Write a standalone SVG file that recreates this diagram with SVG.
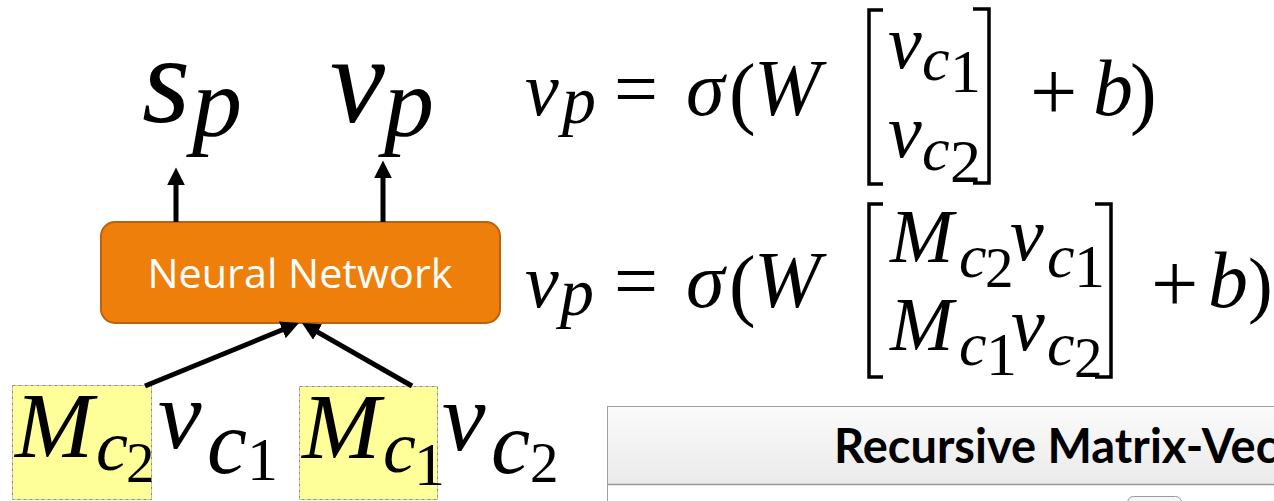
<svg xmlns="http://www.w3.org/2000/svg" width="1274" height="501" viewBox="0 0 1274 501">
<style>
.m{font-family:'Liberation Serif','Open Sans',sans-serif;font-style:italic;fill:#000}
.r{font-family:'Liberation Serif','Open Sans',sans-serif;font-style:normal;fill:#000}
.br{fill:none;stroke:#000;stroke-width:3.5}
.ybox{fill:#FFFF99;stroke:#8a8a8a;stroke-width:1;stroke-dasharray:3 1 1 1}
.conn{stroke:#000;stroke-width:5;fill:none}
</style>
<defs>
<marker id="ah" viewBox="0 0 10 10" refX="3" refY="5" markerWidth="3.6" markerHeight="3.6" orient="auto" markerUnits="strokeWidth">
<path d="M0,0 L10,5 L0,10 z" fill="#000"/>
</marker>
<linearGradient id="hdr" x1="0" y1="0" x2="0" y2="1">
<stop offset="0" stop-color="#FBFBFB"/>
<stop offset="1" stop-color="#EAEAEA"/>
</linearGradient>
</defs>
<rect width="1274" height="501" fill="#fff"/>

<g id="out-sp">
<text class="m" font-size="124" x="142" y="122">s</text>
<text class="m" font-size="100" x="192" y="136">p</text>
</g>
<g id="out-vp">
<text class="m" font-size="124" x="330" y="122">v</text>
<text class="m" font-size="100" x="384" y="136">p</text>
</g>

<g id="nn">
<rect x="101" y="222" width="399" height="101" rx="14" fill="#EF7F0B" stroke="#B9620F" stroke-width="2"/>
<text x="300" y="288" text-anchor="middle" font-family="'Open Sans', sans-serif" font-size="40" fill="#fff" textLength="305" lengthAdjust="spacingAndGlyphs">Neural Network</text>
</g>

<g id="in-left">
<rect class="ybox" x="12.5" y="385.5" width="139" height="114"/>
<text class="m" font-size="94" x="15" y="457">M</text>
<text class="m" font-size="72" x="96" y="470">c</text>
<text class="r" font-size="57" x="126" y="482">2</text>
<text class="m" font-size="98" x="158" y="448">v</text>
<text class="m" font-size="90" x="207" y="473">c</text>
<text class="r" font-size="62" x="247" y="480">1</text>
</g>
<g id="in-right">
<rect class="ybox" x="299.5" y="386.5" width="138" height="113"/>
<text class="m" font-size="94" x="302" y="458">M</text>
<text class="m" font-size="74" x="383" y="472">c</text>
<text class="r" font-size="62" x="414" y="485">1</text>
<text class="m" font-size="98" x="442" y="450">v</text>
<text class="m" font-size="88" x="491" y="473">c</text>
<text class="r" font-size="57" x="530" y="482">2</text>
</g>

<g id="connectors">
<line class="conn" x1="176" y1="222" x2="176" y2="180" marker-end="url(#ah)"/>
<line class="conn" x1="383" y1="222" x2="383" y2="173" marker-end="url(#ah)"/>
<line class="conn" x1="145" y1="386" x2="287.3" y2="327.8" marker-end="url(#ah)"/>
<line class="conn" x1="412" y1="386" x2="312.9" y2="329.3" marker-end="url(#ah)"/>
</g>

<g id="eq1">
<text class="m" font-size="76" x="525" y="115">v</text>
<text class="m" font-size="68" x="562" y="123">p</text>
<text class="r" font-size="78" x="614" y="115">=</text>
<text class="m" font-size="78" x="686" y="115">σ</text>
<text class="r" font-size="80" x="729" y="119">(</text>
<text class="m" font-size="80" x="754" y="115">W</text>
<path class="br" d="M883,10 L869,10 L869,184 L883,184"/>
<text class="m" font-size="76" x="888" y="68">v</text>
<text class="m" font-size="62" x="922" y="80">c</text>
<text class="r" font-size="62" x="950" y="92">1</text>
<text class="m" font-size="76" x="888" y="157">v</text>
<text class="m" font-size="62" x="922" y="170">c</text>
<text class="r" font-size="62" x="950" y="182">2</text>
<path class="br" d="M973,9 L989,9 L989,183 L973,183"/>
<text class="r" font-size="84" x="1030" y="120">+</text>
<text class="m" font-size="80" x="1093" y="115">b</text>
<text class="r" font-size="80" x="1130" y="119">)</text>
</g>

<g id="eq2">
<text class="m" font-size="76" x="525" y="307">v</text>
<text class="m" font-size="68" x="560" y="315">p</text>
<text class="r" font-size="78" x="614" y="307">=</text>
<text class="m" font-size="78" x="686" y="307">σ</text>
<text class="r" font-size="80" x="729" y="311">(</text>
<text class="m" font-size="80" x="754" y="307">W</text>
<path class="br" d="M883,204 L869,204 L869,377 L883,377"/>
<text class="m" font-size="76" x="890" y="262">M</text>
<text class="m" font-size="62" x="959" y="277">c</text>
<text class="r" font-size="57" x="985" y="287">2</text>
<text class="m" font-size="76" x="1010" y="260">v</text>
<text class="m" font-size="62" x="1047" y="277">c</text>
<text class="r" font-size="62" x="1074" y="287">1</text>
<text class="m" font-size="76" x="890" y="350">M</text>
<text class="m" font-size="62" x="959" y="365">c</text>
<text class="r" font-size="62" x="986" y="375">1</text>
<text class="m" font-size="76" x="1011" y="350">v</text>
<text class="m" font-size="62" x="1047" y="365">c</text>
<text class="r" font-size="57" x="1074" y="377">2</text>
<path class="br" d="M1095,204 L1111,204 L1111,377 L1095,377"/>
<text class="r" font-size="84" x="1151" y="312">+</text>
<text class="m" font-size="80" x="1208" y="307">b</text>
<text class="r" font-size="74" x="1248" y="309">)</text>
</g>

<g id="panel">
<rect x="607.5" y="406.5" width="700" height="120" fill="#fff" stroke="#A0A0A0" stroke-width="1"/>
<rect x="608" y="407" width="700" height="77" fill="url(#hdr)"/>
<line x1="608" y1="484.5" x2="1274" y2="484.5" stroke="#9A9A9A" stroke-width="1.5"/>
<rect x="1127.5" y="496.5" width="54" height="20" rx="6" fill="#F6F6F6" stroke="#9A9A9A"/>
<text x="834" y="463" font-family="Lato, sans-serif" font-weight="bold" font-size="47" fill="#000">Recursive Matrix-Vec</text>
</g>
</svg>
